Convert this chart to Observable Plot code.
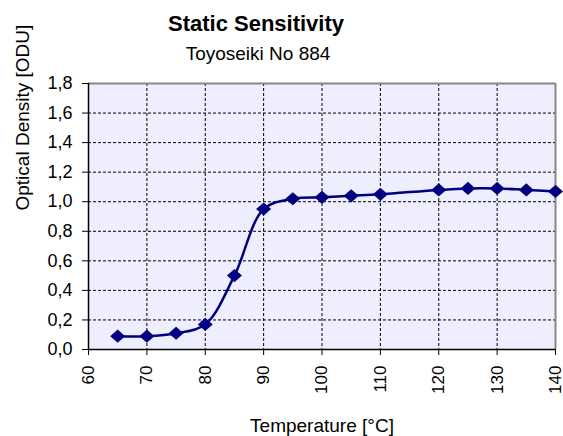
<!DOCTYPE html>
<html><head><meta charset="utf-8">
<script src="https://cdn.jsdelivr.net/npm/d3@7"></script>
<script src="https://cdn.jsdelivr.net/npm/@observablehq/plot@0.6"></script>
<style>
body{margin:0;background:#fff;font-family:"Liberation Sans",Arial,sans-serif;}
#wrap{position:relative;width:563px;height:436px;overflow:hidden;}
#title{position:absolute;left:0;width:512px;top:13px;text-align:center;font-weight:bold;font-size:22px;line-height:22px;color:#000;}
#subtitle{position:absolute;left:0;width:516px;top:44px;text-align:center;font-size:19px;line-height:19px;color:#000;}
#chart{position:absolute;left:0;top:0;}
</style></head>
<body>
<div id="wrap">
  <div id="chart"></div>
  <div id="title">Static Sensitivity</div>
  <div id="subtitle">Toyoseiki No 884</div>
</div>
<script>
const temps = [65, 70, 75, 80, 85, 90, 95, 100, 105, 110, 120, 125, 130, 135, 140];
const density = [0.09, 0.09, 0.11, 0.17, 0.50, 0.95, 1.02, 1.03, 1.04, 1.05, 1.08, 1.09, 1.09, 1.08, 1.07];
const xTicks = [60, 70, 80, 90, 100, 110, 120, 130, 140];
const yTicks = [0, 0.2, 0.4, 0.6, 0.8, 1.0, 1.2, 1.4, 1.6, 1.8];
const xGrid = [70, 80, 90, 100, 110, 120, 130];
const yGrid = [0.2, 0.4, 0.6, 0.8, 1.0, 1.2, 1.4, 1.6];
const xLabel = "Temperature [°C]";
const yLabel = "Optical Density [ODU]";

const data = temps.map((t, i) => ({t, d: density[i]}));

const diamond = {
  draw(ctx, size) {
    const r = Math.sqrt(size / Math.PI);
    ctx.moveTo(0, -r * 0.88);
    ctx.lineTo(r, 0);
    ctx.lineTo(0, r * 0.88);
    ctx.lineTo(-r, 0);
    ctx.closePath();
  }
};

const fmtY = d => d.toFixed(1).replace(".", ",");

const chart = Plot.plot({
  width: 563,
  height: 436,
  marginLeft: 88,
  marginRight: 8,
  marginTop: 83,
  marginBottom: 87,
  style: {fontFamily: "'Liberation Sans', Arial, sans-serif", fontSize: "18px", color: "#000", background: "#fff"},
  x: {domain: [60, 140]},
  y: {domain: [0, 1.8]},
  marks: [
    Plot.frame({fill: "#eeeeff", stroke: null}),
    Plot.gridX(xGrid, {stroke: "#000", strokeOpacity: 1, strokeDasharray: "3,2"}),
    Plot.gridY(yGrid, {stroke: "#000", strokeOpacity: 1, strokeDasharray: "3,2"}),
    Plot.ruleY([1.8], {stroke: "#888", strokeWidth: 2}),
    Plot.ruleX([140], {stroke: "#888", strokeWidth: 2}),
    Plot.ruleX([60], {stroke: "#000", strokeWidth: 1.5}),
    Plot.ruleY([0], {stroke: "#000", strokeWidth: 1.5}),
    Plot.axisX({ticks: xTicks, tickFormat: d => String(d), tickRotate: -90, tickSize: 6, tickPadding: 10, fontSize: 17, label: null}),
    Plot.axisY({ticks: yTicks, tickFormat: fmtY, tickSize: 6, tickPadding: 10, fontSize: 18, label: null}),
    Plot.line(data, {x: "t", y: "d", curve: "catmull-rom", stroke: "#000080", strokeWidth: 2.5}),
    Plot.dot(data, {x: "t", y: "d", symbol: diamond, r: 7.5, fill: "#000080", stroke: "none"}),
    Plot.text([xLabel], {frameAnchor: "bottom", dy: 76, fontSize: 19, fill: "#000", lineAnchor: "middle"}),
    Plot.text([yLabel], {frameAnchor: "left", dx: -66, dy: -6, rotate: -90, fontSize: 19, fill: "#000", lineAnchor: "middle"})
  ]
});
document.getElementById("chart").appendChild(chart);
</script>
</body></html>
